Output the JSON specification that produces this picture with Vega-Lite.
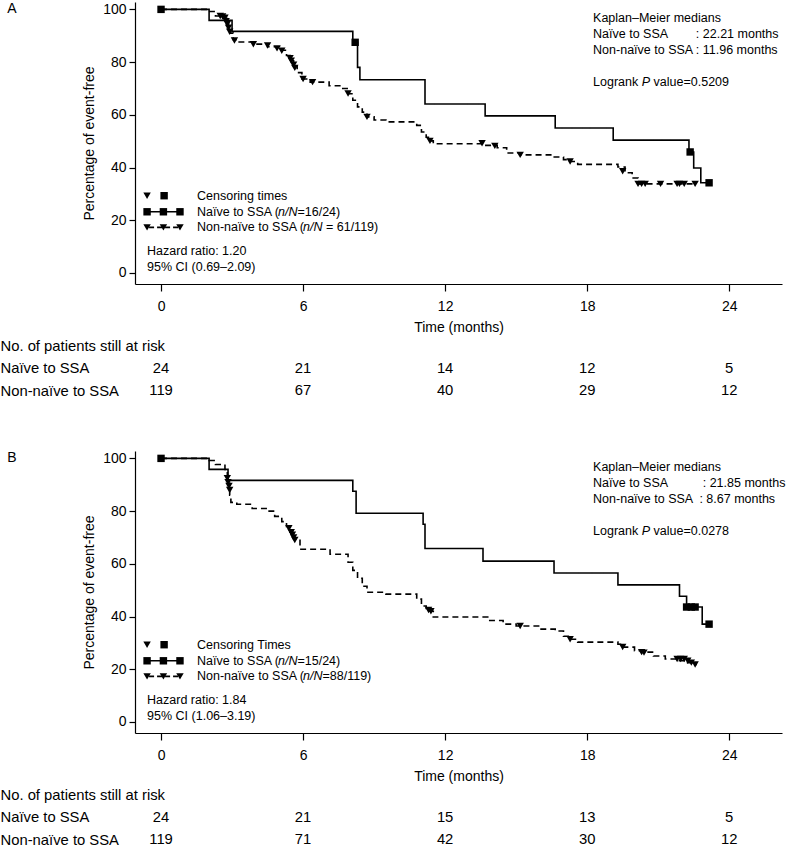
{
  "$schema": "https://vega.github.io/schema/vega-lite/v6.json",
  "padding": {"left": 0, "top": 2, "right": 5, "bottom": 5},
  "config": {
    "font": "Liberation Sans",
    "view": {"stroke": null},
    "axis": {"grid": false, "domainColor": "black", "tickColor": "black", "labelColor": "black", "titleColor": "black", "titleFontWeight": "normal", "domainWidth": 1.2, "tickWidth": 1.2},
    "text": {"color": "black", "fontSize": 12.5, "align": "left", "baseline": "middle"},
    "point": {"filled": true, "color": "black", "opacity": 1, "size": 55}
  },
  "datasets": {
    "curves": [
      {"panel": "A", "group": "Naive", "t": 0, "s": 100},
      {"panel": "A", "group": "Naive", "t": 2.03, "s": 95.83},
      {"panel": "A", "group": "Naive", "t": 3.0, "s": 91.67},
      {"panel": "A", "group": "Naive", "t": 8.1, "s": 87.5},
      {"panel": "A", "group": "Naive", "t": 8.3, "s": 78.0},
      {"panel": "A", "group": "Naive", "t": 8.4, "s": 73.3},
      {"panel": "A", "group": "Naive", "t": 11.15, "s": 64.1},
      {"panel": "A", "group": "Naive", "t": 13.69, "s": 59.6},
      {"panel": "A", "group": "Naive", "t": 16.65, "s": 55.0},
      {"panel": "A", "group": "Naive", "t": 19.1, "s": 50.4},
      {"panel": "A", "group": "Naive", "t": 22.3, "s": 45.9},
      {"panel": "A", "group": "Naive", "t": 22.5, "s": 39.8},
      {"panel": "A", "group": "Naive", "t": 22.8, "s": 34.2},
      {"panel": "A", "group": "Naive", "t": 23.15, "s": 34.2},
      {"panel": "A", "group": "Nonnaive", "t": 0, "s": 100},
      {"panel": "A", "group": "Nonnaive", "t": 2.0, "s": 99.2},
      {"panel": "A", "group": "Nonnaive", "t": 2.3, "s": 97.5},
      {"panel": "A", "group": "Nonnaive", "t": 2.7, "s": 96.5},
      {"panel": "A", "group": "Nonnaive", "t": 2.8, "s": 94.5},
      {"panel": "A", "group": "Nonnaive", "t": 2.85, "s": 92.5},
      {"panel": "A", "group": "Nonnaive", "t": 2.9, "s": 91.0},
      {"panel": "A", "group": "Nonnaive", "t": 3.05, "s": 88.5},
      {"panel": "A", "group": "Nonnaive", "t": 3.2, "s": 87.6},
      {"panel": "A", "group": "Nonnaive", "t": 3.9, "s": 86.8},
      {"panel": "A", "group": "Nonnaive", "t": 4.5, "s": 85.8},
      {"panel": "A", "group": "Nonnaive", "t": 5.0, "s": 84.5},
      {"panel": "A", "group": "Nonnaive", "t": 5.3, "s": 82.5},
      {"panel": "A", "group": "Nonnaive", "t": 5.5, "s": 80.5},
      {"panel": "A", "group": "Nonnaive", "t": 5.6, "s": 78.5},
      {"panel": "A", "group": "Nonnaive", "t": 5.75, "s": 76.0},
      {"panel": "A", "group": "Nonnaive", "t": 5.95, "s": 73.6},
      {"panel": "A", "group": "Nonnaive", "t": 6.3, "s": 72.4},
      {"panel": "A", "group": "Nonnaive", "t": 7.1, "s": 71.0},
      {"panel": "A", "group": "Nonnaive", "t": 7.6, "s": 70.0},
      {"panel": "A", "group": "Nonnaive", "t": 7.9, "s": 68.0},
      {"panel": "A", "group": "Nonnaive", "t": 8.1, "s": 65.5},
      {"panel": "A", "group": "Nonnaive", "t": 8.3, "s": 63.0},
      {"panel": "A", "group": "Nonnaive", "t": 8.5, "s": 61.0},
      {"panel": "A", "group": "Nonnaive", "t": 8.7, "s": 59.2},
      {"panel": "A", "group": "Nonnaive", "t": 9.0, "s": 58.0},
      {"panel": "A", "group": "Nonnaive", "t": 9.5, "s": 57.3},
      {"panel": "A", "group": "Nonnaive", "t": 10.8, "s": 56.0},
      {"panel": "A", "group": "Nonnaive", "t": 11.0, "s": 53.5},
      {"panel": "A", "group": "Nonnaive", "t": 11.2, "s": 51.5},
      {"panel": "A", "group": "Nonnaive", "t": 11.36, "s": 50.1},
      {"panel": "A", "group": "Nonnaive", "t": 11.5, "s": 49.0},
      {"panel": "A", "group": "Nonnaive", "t": 13.6, "s": 48.4},
      {"panel": "A", "group": "Nonnaive", "t": 14.2, "s": 47.5},
      {"panel": "A", "group": "Nonnaive", "t": 14.6, "s": 45.5},
      {"panel": "A", "group": "Nonnaive", "t": 15.17, "s": 44.8},
      {"panel": "A", "group": "Nonnaive", "t": 16.56, "s": 44.0},
      {"panel": "A", "group": "Nonnaive", "t": 17.0, "s": 43.0},
      {"panel": "A", "group": "Nonnaive", "t": 17.28, "s": 42.3},
      {"panel": "A", "group": "Nonnaive", "t": 17.6, "s": 41.2},
      {"panel": "A", "group": "Nonnaive", "t": 19.3, "s": 40.2},
      {"panel": "A", "group": "Nonnaive", "t": 19.6, "s": 38.0},
      {"panel": "A", "group": "Nonnaive", "t": 19.9, "s": 36.0},
      {"panel": "A", "group": "Nonnaive", "t": 20.15, "s": 33.8},
      {"panel": "A", "group": "Nonnaive", "t": 22.6, "s": 33.8},
      {"panel": "B", "group": "Naive", "t": 0, "s": 100},
      {"panel": "B", "group": "Naive", "t": 2.03, "s": 95.83},
      {"panel": "B", "group": "Naive", "t": 2.83, "s": 91.67},
      {"panel": "B", "group": "Naive", "t": 8.1, "s": 87.5},
      {"panel": "B", "group": "Naive", "t": 8.24, "s": 79.17},
      {"panel": "B", "group": "Naive", "t": 11.07, "s": 75.0},
      {"panel": "B", "group": "Naive", "t": 11.15, "s": 65.8},
      {"panel": "B", "group": "Naive", "t": 13.6, "s": 61.0},
      {"panel": "B", "group": "Naive", "t": 16.6, "s": 56.5},
      {"panel": "B", "group": "Naive", "t": 19.3, "s": 52.0},
      {"panel": "B", "group": "Naive", "t": 21.9, "s": 47.7},
      {"panel": "B", "group": "Naive", "t": 22.2, "s": 43.6},
      {"panel": "B", "group": "Naive", "t": 22.86, "s": 37.1},
      {"panel": "B", "group": "Naive", "t": 23.15, "s": 37.1},
      {"panel": "B", "group": "Nonnaive", "t": 0, "s": 100},
      {"panel": "B", "group": "Nonnaive", "t": 2.03, "s": 99.2},
      {"panel": "B", "group": "Nonnaive", "t": 2.3, "s": 97.7},
      {"panel": "B", "group": "Nonnaive", "t": 2.7, "s": 95.8},
      {"panel": "B", "group": "Nonnaive", "t": 2.8, "s": 93.5},
      {"panel": "B", "group": "Nonnaive", "t": 2.85, "s": 90.5},
      {"panel": "B", "group": "Nonnaive", "t": 2.9, "s": 86.0},
      {"panel": "B", "group": "Nonnaive", "t": 2.95, "s": 83.3},
      {"panel": "B", "group": "Nonnaive", "t": 3.2, "s": 82.6},
      {"panel": "B", "group": "Nonnaive", "t": 3.85, "s": 81.0},
      {"panel": "B", "group": "Nonnaive", "t": 4.5, "s": 80.0},
      {"panel": "B", "group": "Nonnaive", "t": 4.8, "s": 78.0},
      {"panel": "B", "group": "Nonnaive", "t": 5.1, "s": 76.0},
      {"panel": "B", "group": "Nonnaive", "t": 5.3, "s": 74.2},
      {"panel": "B", "group": "Nonnaive", "t": 5.45, "s": 72.0},
      {"panel": "B", "group": "Nonnaive", "t": 5.6, "s": 69.5},
      {"panel": "B", "group": "Nonnaive", "t": 5.87, "s": 65.5},
      {"panel": "B", "group": "Nonnaive", "t": 7.14, "s": 63.6},
      {"panel": "B", "group": "Nonnaive", "t": 7.9, "s": 60.6},
      {"panel": "B", "group": "Nonnaive", "t": 8.1, "s": 57.5},
      {"panel": "B", "group": "Nonnaive", "t": 8.3, "s": 54.5},
      {"panel": "B", "group": "Nonnaive", "t": 8.5, "s": 51.5},
      {"panel": "B", "group": "Nonnaive", "t": 8.7, "s": 49.2},
      {"panel": "B", "group": "Nonnaive", "t": 9.5, "s": 48.5},
      {"panel": "B", "group": "Nonnaive", "t": 10.8, "s": 46.6},
      {"panel": "B", "group": "Nonnaive", "t": 11.0, "s": 44.0},
      {"panel": "B", "group": "Nonnaive", "t": 11.2, "s": 42.5},
      {"panel": "B", "group": "Nonnaive", "t": 11.36, "s": 42.0},
      {"panel": "B", "group": "Nonnaive", "t": 11.5, "s": 39.8},
      {"panel": "B", "group": "Nonnaive", "t": 13.8, "s": 38.5},
      {"panel": "B", "group": "Nonnaive", "t": 14.45, "s": 37.1},
      {"panel": "B", "group": "Nonnaive", "t": 15.0, "s": 36.4},
      {"panel": "B", "group": "Nonnaive", "t": 16.0, "s": 35.2},
      {"panel": "B", "group": "Nonnaive", "t": 16.65, "s": 34.5},
      {"panel": "B", "group": "Nonnaive", "t": 17.0, "s": 32.5},
      {"panel": "B", "group": "Nonnaive", "t": 17.28, "s": 31.4},
      {"panel": "B", "group": "Nonnaive", "t": 17.6, "s": 30.3},
      {"panel": "B", "group": "Nonnaive", "t": 19.3, "s": 29.5},
      {"panel": "B", "group": "Nonnaive", "t": 19.5, "s": 28.4},
      {"panel": "B", "group": "Nonnaive", "t": 20.0, "s": 27.0},
      {"panel": "B", "group": "Nonnaive", "t": 20.3, "s": 26.5},
      {"panel": "B", "group": "Nonnaive", "t": 20.8, "s": 25.0},
      {"panel": "B", "group": "Nonnaive", "t": 21.3, "s": 23.9},
      {"panel": "B", "group": "Nonnaive", "t": 21.8, "s": 23.2},
      {"panel": "B", "group": "Nonnaive", "t": 22.2, "s": 22.5},
      {"panel": "B", "group": "Nonnaive", "t": 22.6, "s": 21.5}
    ],
    "censor": [
      {"panel": "A", "group": "Naive", "t": 0, "s": 100},
      {"panel": "A", "group": "Naive", "t": 8.2, "s": 87.5},
      {"panel": "A", "group": "Naive", "t": 22.35, "s": 45.9},
      {"panel": "A", "group": "Naive", "t": 23.15, "s": 34.2},
      {"panel": "A", "group": "Nonnaive", "t": 2.5, "s": 97.5},
      {"panel": "A", "group": "Nonnaive", "t": 2.6, "s": 97.3},
      {"panel": "A", "group": "Nonnaive", "t": 2.7, "s": 96.8},
      {"panel": "A", "group": "Nonnaive", "t": 2.75, "s": 95.5},
      {"panel": "A", "group": "Nonnaive", "t": 2.8, "s": 94.5},
      {"panel": "A", "group": "Nonnaive", "t": 2.85, "s": 93.0},
      {"panel": "A", "group": "Nonnaive", "t": 2.9, "s": 91.5},
      {"panel": "A", "group": "Nonnaive", "t": 3.1, "s": 88.2},
      {"panel": "A", "group": "Nonnaive", "t": 3.9, "s": 86.8},
      {"panel": "A", "group": "Nonnaive", "t": 4.5, "s": 86.3},
      {"panel": "A", "group": "Nonnaive", "t": 4.9, "s": 85.2},
      {"panel": "A", "group": "Nonnaive", "t": 5.1, "s": 84.3},
      {"panel": "A", "group": "Nonnaive", "t": 5.45, "s": 81.5},
      {"panel": "A", "group": "Nonnaive", "t": 5.5, "s": 80.5},
      {"panel": "A", "group": "Nonnaive", "t": 5.6, "s": 79.0},
      {"panel": "A", "group": "Nonnaive", "t": 5.65, "s": 77.8},
      {"panel": "A", "group": "Nonnaive", "t": 6.0, "s": 73.6},
      {"panel": "A", "group": "Nonnaive", "t": 6.4, "s": 72.4},
      {"panel": "A", "group": "Nonnaive", "t": 7.9, "s": 68.1},
      {"panel": "A", "group": "Nonnaive", "t": 8.7, "s": 59.2},
      {"panel": "A", "group": "Nonnaive", "t": 11.36, "s": 50.1},
      {"panel": "A", "group": "Nonnaive", "t": 13.56, "s": 49.2},
      {"panel": "A", "group": "Nonnaive", "t": 14.1, "s": 48.2},
      {"panel": "A", "group": "Nonnaive", "t": 15.17, "s": 44.8},
      {"panel": "A", "group": "Nonnaive", "t": 17.28, "s": 42.3},
      {"panel": "A", "group": "Nonnaive", "t": 19.5, "s": 38.6},
      {"panel": "A", "group": "Nonnaive", "t": 20.15, "s": 33.8},
      {"panel": "A", "group": "Nonnaive", "t": 20.3, "s": 33.8},
      {"panel": "A", "group": "Nonnaive", "t": 20.45, "s": 33.8},
      {"panel": "A", "group": "Nonnaive", "t": 21.1, "s": 33.8},
      {"panel": "A", "group": "Nonnaive", "t": 21.8, "s": 33.8},
      {"panel": "A", "group": "Nonnaive", "t": 21.9, "s": 33.8},
      {"panel": "A", "group": "Nonnaive", "t": 22.1, "s": 33.8},
      {"panel": "A", "group": "Nonnaive", "t": 22.56, "s": 33.8},
      {"panel": "B", "group": "Naive", "t": 0, "s": 100},
      {"panel": "B", "group": "Naive", "t": 22.2, "s": 43.6},
      {"panel": "B", "group": "Naive", "t": 22.4, "s": 43.6},
      {"panel": "B", "group": "Naive", "t": 22.56, "s": 43.6},
      {"panel": "B", "group": "Naive", "t": 23.15, "s": 37.1},
      {"panel": "B", "group": "Nonnaive", "t": 2.8, "s": 92.5},
      {"panel": "B", "group": "Nonnaive", "t": 2.83, "s": 91.0},
      {"panel": "B", "group": "Nonnaive", "t": 2.87, "s": 89.5},
      {"panel": "B", "group": "Nonnaive", "t": 2.9, "s": 88.0},
      {"panel": "B", "group": "Nonnaive", "t": 5.4, "s": 73.5},
      {"panel": "B", "group": "Nonnaive", "t": 5.5, "s": 72.0},
      {"panel": "B", "group": "Nonnaive", "t": 5.55, "s": 71.0},
      {"panel": "B", "group": "Nonnaive", "t": 5.6, "s": 70.0},
      {"panel": "B", "group": "Nonnaive", "t": 5.65, "s": 69.0},
      {"panel": "B", "group": "Nonnaive", "t": 11.3, "s": 42.5},
      {"panel": "B", "group": "Nonnaive", "t": 11.4, "s": 42.0},
      {"panel": "B", "group": "Nonnaive", "t": 15.17, "s": 36.4},
      {"panel": "B", "group": "Nonnaive", "t": 17.28, "s": 31.4},
      {"panel": "B", "group": "Nonnaive", "t": 19.5, "s": 28.4},
      {"panel": "B", "group": "Nonnaive", "t": 20.3, "s": 26.5},
      {"panel": "B", "group": "Nonnaive", "t": 20.4, "s": 26.3},
      {"panel": "B", "group": "Nonnaive", "t": 21.8, "s": 23.9},
      {"panel": "B", "group": "Nonnaive", "t": 21.95, "s": 23.9},
      {"panel": "B", "group": "Nonnaive", "t": 22.1, "s": 23.9},
      {"panel": "B", "group": "Nonnaive", "t": 22.25, "s": 23.2},
      {"panel": "B", "group": "Nonnaive", "t": 22.4, "s": 22.5},
      {"panel": "B", "group": "Nonnaive", "t": 22.56, "s": 21.8}
    ],
    "risk": [
      {"panel": "A", "row": "Naïve to SSA", "t": 0, "n": 24},
      {"panel": "A", "row": "Naïve to SSA", "t": 6, "n": 21},
      {"panel": "A", "row": "Naïve to SSA", "t": 12, "n": 14},
      {"panel": "A", "row": "Naïve to SSA", "t": 18, "n": 12},
      {"panel": "A", "row": "Naïve to SSA", "t": 24, "n": 5},
      {"panel": "A", "row": "Non-naïve to SSA", "t": 0, "n": 119},
      {"panel": "A", "row": "Non-naïve to SSA", "t": 6, "n": 67},
      {"panel": "A", "row": "Non-naïve to SSA", "t": 12, "n": 40},
      {"panel": "A", "row": "Non-naïve to SSA", "t": 18, "n": 29},
      {"panel": "A", "row": "Non-naïve to SSA", "t": 24, "n": 12},
      {"panel": "B", "row": "Naïve to SSA", "t": 0, "n": 24},
      {"panel": "B", "row": "Naïve to SSA", "t": 6, "n": 21},
      {"panel": "B", "row": "Naïve to SSA", "t": 12, "n": 15},
      {"panel": "B", "row": "Naïve to SSA", "t": 18, "n": 13},
      {"panel": "B", "row": "Naïve to SSA", "t": 24, "n": 5},
      {"panel": "B", "row": "Non-naïve to SSA", "t": 0, "n": 119},
      {"panel": "B", "row": "Non-naïve to SSA", "t": 6, "n": 71},
      {"panel": "B", "row": "Non-naïve to SSA", "t": 12, "n": 42},
      {"panel": "B", "row": "Non-naïve to SSA", "t": 18, "n": 30},
      {"panel": "B", "row": "Non-naïve to SSA", "t": 24, "n": 12}
    ]
  },
  "spacing": 53,
  "vconcat": [
    {
      "spacing": 4,
      "vconcat": [
        {
          "width": 647,
          "height": 282,
          "layer": [
            {
              "data": {"name": "curves"},
              "transform": [{"filter": "datum.panel === 'A'"}],
              "mark": {"type": "line", "interpolate": "step-after", "color": "black", "strokeWidth": 1.6},
              "encoding": {
                "x": {"field": "t", "type": "quantitative", "scale": {"domain": [-1.1, 26.23], "nice": false, "zero": false},
                  "axis": {"values": [0, 6, 12, 18, 24], "title": "Time (months)", "tickSize": 7, "labelPadding": 8, "labelFontSize": 14, "titleFontSize": 14, "titlePadding": 7}},
                "y": {"field": "s", "type": "quantitative", "scale": {"domain": [-4.2, 102.8], "nice": false, "zero": false},
                  "axis": {"values": [0, 20, 40, 60, 80, 100], "title": "Percentage of event-free", "tickSize": 6, "labelPadding": 3, "labelFontSize": 14, "titleFontSize": 14, "titlePadding": 6}},
                "strokeDash": {"field": "group", "type": "nominal", "scale": {"domain": ["Naive", "Nonnaive"], "range": [[1, 0], [6, 4]]}, "legend": null}
              }
            },
            {
              "data": {"name": "censor"},
              "transform": [{"filter": "datum.panel === 'A'"}],
              "mark": {"type": "point"},
              "encoding": {
                "x": {"field": "t", "type": "quantitative"},
                "y": {"field": "s", "type": "quantitative"},
                "shape": {"field": "group", "type": "nominal", "scale": {"domain": ["Naive", "Nonnaive"], "range": ["square", "triangle-down"]}, "legend": null}
              }
            },
            {"data": {"values": [{}]}, "mark": {"type": "text", "fontSize": 14}, "encoding": {"x": {"datum": -6.5, "type": "quantitative"}, "y": {"datum": 100, "type": "quantitative"}, "text": {"value": "A"}}},
            {"data": {"values": [{}]}, "mark": {"type": "text"}, "encoding": {"x": {"datum": 18.25, "type": "quantitative"}, "y": {"datum": 96.6, "type": "quantitative"}, "text": {"value": "Kaplan–Meier medians"}}},
            {"data": {"values": [{}]}, "mark": {"type": "text"}, "encoding": {"x": {"datum": 18.25, "type": "quantitative"}, "y": {"datum": 90.7, "type": "quantitative"}, "text": {"value": "Naïve to SSA"}}},
            {"data": {"values": [{}]}, "mark": {"type": "text"}, "encoding": {"x": {"datum": 18.25, "type": "quantitative"}, "y": {"datum": 84.6, "type": "quantitative"}, "text": {"value": "Non-naïve to SSA"}}},
            {"data": {"values": [{}]}, "mark": {"type": "text"}, "encoding": {"x": {"datum": 22.59, "type": "quantitative"}, "y": {"datum": 90.7, "type": "quantitative"}, "text": {"value": ": 22.21 months"}}},
            {"data": {"values": [{}]}, "mark": {"type": "text"}, "encoding": {"x": {"datum": 22.59, "type": "quantitative"}, "y": {"datum": 84.6, "type": "quantitative"}, "text": {"value": ": 11.96 months"}}},
            {"data": {"values": [{}]}, "mark": {"type": "text"}, "encoding": {"x": {"datum": 18.25, "type": "quantitative"}, "y": {"datum": 72.3, "type": "quantitative"}, "text": {"value": "Logrank"}}},
            {"data": {"values": [{}]}, "mark": {"type": "text", "fontStyle": "italic"}, "encoding": {"x": {"datum": 20.306, "type": "quantitative"}, "y": {"datum": 72.3, "type": "quantitative"}, "text": {"value": "P"}}},
            {"data": {"values": [{}]}, "mark": {"type": "text"}, "encoding": {"x": {"datum": 20.805, "type": "quantitative"}, "y": {"datum": 72.3, "type": "quantitative"}, "text": {"value": "value=0.5209"}}},
            {"data": {"values": [{}]}, "mark": {"type": "point", "shape": "triangle-down"}, "encoding": {"x": {"datum": -0.59, "type": "quantitative"}, "y": {"datum": 29.3, "type": "quantitative"}}},
            {"data": {"values": [{}]}, "mark": {"type": "point", "shape": "square"}, "encoding": {"x": {"datum": 0.13, "type": "quantitative"}, "y": {"datum": 29.3, "type": "quantitative"}}},
            {"data": {"values": [{}]}, "mark": {"type": "rule", "color": "black", "strokeWidth": 1.6}, "encoding": {"x": {"datum": -0.59, "type": "quantitative"}, "x2": {"datum": 0.8}, "y": {"datum": 23.2, "type": "quantitative"}}},
            {"data": {"values": [{}]}, "mark": {"type": "point", "shape": "square"}, "encoding": {"x": {"datum": -0.59, "type": "quantitative"}, "y": {"datum": 23.2, "type": "quantitative"}}},
            {"data": {"values": [{}]}, "mark": {"type": "point", "shape": "square"}, "encoding": {"x": {"datum": 0.1, "type": "quantitative"}, "y": {"datum": 23.2, "type": "quantitative"}}},
            {"data": {"values": [{}]}, "mark": {"type": "point", "shape": "square"}, "encoding": {"x": {"datum": 0.8, "type": "quantitative"}, "y": {"datum": 23.2, "type": "quantitative"}}},
            {"data": {"values": [{}]}, "mark": {"type": "rule", "color": "black", "strokeWidth": 1.6, "strokeDash": [5, 3], "strokeDashOffset": -2}, "encoding": {"x": {"datum": -0.59, "type": "quantitative"}, "x2": {"datum": 0.8}, "y": {"datum": 17.3, "type": "quantitative"}}},
            {"data": {"values": [{}]}, "mark": {"type": "point", "shape": "triangle-down"}, "encoding": {"x": {"datum": -0.59, "type": "quantitative"}, "y": {"datum": 17.3, "type": "quantitative"}}},
            {"data": {"values": [{}]}, "mark": {"type": "point", "shape": "triangle-down"}, "encoding": {"x": {"datum": 0.1, "type": "quantitative"}, "y": {"datum": 17.3, "type": "quantitative"}}},
            {"data": {"values": [{}]}, "mark": {"type": "point", "shape": "triangle-down"}, "encoding": {"x": {"datum": 0.8, "type": "quantitative"}, "y": {"datum": 17.3, "type": "quantitative"}}},
            {"data": {"values": [{}]}, "mark": {"type": "text"}, "encoding": {"x": {"datum": 1.52, "type": "quantitative"}, "y": {"datum": 29.3, "type": "quantitative"}, "text": {"value": "Censoring times"}}},
            {"data": {"values": [{}]}, "mark": {"type": "text"}, "encoding": {"x": {"datum": 1.52, "type": "quantitative"}, "y": {"datum": 23.2, "type": "quantitative"}, "text": {"value": "Naïve to SSA ("}}},
            {"data": {"values": [{}]}, "mark": {"type": "text", "fontStyle": "italic"}, "encoding": {"x": {"datum": 4.941, "type": "quantitative"}, "y": {"datum": 23.2, "type": "quantitative"}, "text": {"value": "n/N"}}},
            {"data": {"values": [{}]}, "mark": {"type": "text"}, "encoding": {"x": {"datum": 5.763, "type": "quantitative"}, "y": {"datum": 23.2, "type": "quantitative"}, "text": {"value": "=16/24)"}}},
            {"data": {"values": [{}]}, "mark": {"type": "text"}, "encoding": {"x": {"datum": 1.52, "type": "quantitative"}, "y": {"datum": 17.3, "type": "quantitative"}, "text": {"value": "Non-naïve to SSA ("}}},
            {"data": {"values": [{}]}, "mark": {"type": "text", "fontStyle": "italic"}, "encoding": {"x": {"datum": 5.998, "type": "quantitative"}, "y": {"datum": 17.3, "type": "quantitative"}, "text": {"value": "n/N"}}},
            {"data": {"values": [{}]}, "mark": {"type": "text"}, "encoding": {"x": {"datum": 6.967, "type": "quantitative"}, "y": {"datum": 17.3, "type": "quantitative"}, "text": {"value": "= 61/119)"}}},
            {"data": {"values": [{}]}, "mark": {"type": "text"}, "encoding": {"x": {"datum": -0.59, "type": "quantitative"}, "y": {"datum": 8.3, "type": "quantitative"}, "text": {"value": "Hazard ratio: 1.20"}}},
            {"data": {"values": [{}]}, "mark": {"type": "text"}, "encoding": {"x": {"datum": -0.59, "type": "quantitative"}, "y": {"datum": 2.2, "type": "quantitative"}, "text": {"value": "95% CI (0.69–2.09)"}}}
          ]
        },
        {
          "width": 647,
          "height": 45,
          "data": {"name": "risk"},
          "transform": [{"filter": "datum.panel === 'A'"}],
          "mark": {"type": "text", "fontSize": 14.8, "align": "center", "baseline": "middle"},
          "encoding": {
            "x": {"field": "t", "type": "quantitative", "scale": {"domain": [-1.1, 26.23], "nice": false, "zero": false}, "axis": null},
            "y": {"field": "row", "type": "ordinal", "scale": {"type": "point", "padding": 0, "domain": ["No. of patients still at risk", "Naïve to SSA", "Non-naïve to SSA"]},
              "axis": {"title": null, "domain": false, "ticks": false, "labelAlign": "left", "labelBaseline": "middle", "labelPadding": 135, "labelFontSize": 14.8, "labelColor": "black"}},
            "text": {"field": "n", "type": "quantitative"}
          }
        }
      ]
    },
    {
      "spacing": 4,
      "vconcat": [
        {
          "width": 647,
          "height": 282,
          "layer": [
            {
              "data": {"name": "curves"},
              "transform": [{"filter": "datum.panel === 'B'"}],
              "mark": {"type": "line", "interpolate": "step-after", "color": "black", "strokeWidth": 1.6},
              "encoding": {
                "x": {"field": "t", "type": "quantitative", "scale": {"domain": [-1.1, 26.23], "nice": false, "zero": false},
                  "axis": {"values": [0, 6, 12, 18, 24], "title": "Time (months)", "tickSize": 7, "labelPadding": 8, "labelFontSize": 14, "titleFontSize": 14, "titlePadding": 7}},
                "y": {"field": "s", "type": "quantitative", "scale": {"domain": [-4.2, 102.8], "nice": false, "zero": false},
                  "axis": {"values": [0, 20, 40, 60, 80, 100], "title": "Percentage of event-free", "tickSize": 6, "labelPadding": 3, "labelFontSize": 14, "titleFontSize": 14, "titlePadding": 6}},
                "strokeDash": {"field": "group", "type": "nominal", "scale": {"domain": ["Naive", "Nonnaive"], "range": [[1, 0], [6, 4]]}, "legend": null}
              }
            },
            {
              "data": {"name": "censor"},
              "transform": [{"filter": "datum.panel === 'B'"}],
              "mark": {"type": "point"},
              "encoding": {
                "x": {"field": "t", "type": "quantitative"},
                "y": {"field": "s", "type": "quantitative"},
                "shape": {"field": "group", "type": "nominal", "scale": {"domain": ["Naive", "Nonnaive"], "range": ["square", "triangle-down"]}, "legend": null}
              }
            },
            {"data": {"values": [{}]}, "mark": {"type": "text", "fontSize": 14}, "encoding": {"x": {"datum": -6.5, "type": "quantitative"}, "y": {"datum": 100, "type": "quantitative"}, "text": {"value": "B"}}},
            {"data": {"values": [{}]}, "mark": {"type": "text"}, "encoding": {"x": {"datum": 18.25, "type": "quantitative"}, "y": {"datum": 96.6, "type": "quantitative"}, "text": {"value": "Kaplan–Meier medians"}}},
            {"data": {"values": [{}]}, "mark": {"type": "text"}, "encoding": {"x": {"datum": 18.25, "type": "quantitative"}, "y": {"datum": 90.7, "type": "quantitative"}, "text": {"value": "Naïve to SSA"}}},
            {"data": {"values": [{}]}, "mark": {"type": "text"}, "encoding": {"x": {"datum": 18.25, "type": "quantitative"}, "y": {"datum": 84.6, "type": "quantitative"}, "text": {"value": "Non-naïve to SSA"}}},
            {"data": {"values": [{}]}, "mark": {"type": "text"}, "encoding": {"x": {"datum": 22.88, "type": "quantitative"}, "y": {"datum": 90.7, "type": "quantitative"}, "text": {"value": ": 21.85 months"}}},
            {"data": {"values": [{}]}, "mark": {"type": "text"}, "encoding": {"x": {"datum": 22.74, "type": "quantitative"}, "y": {"datum": 84.6, "type": "quantitative"}, "text": {"value": ": 8.67 months"}}},
            {"data": {"values": [{}]}, "mark": {"type": "text"}, "encoding": {"x": {"datum": 18.25, "type": "quantitative"}, "y": {"datum": 72.3, "type": "quantitative"}, "text": {"value": "Logrank"}}},
            {"data": {"values": [{}]}, "mark": {"type": "text", "fontStyle": "italic"}, "encoding": {"x": {"datum": 20.306, "type": "quantitative"}, "y": {"datum": 72.3, "type": "quantitative"}, "text": {"value": "P"}}},
            {"data": {"values": [{}]}, "mark": {"type": "text"}, "encoding": {"x": {"datum": 20.805, "type": "quantitative"}, "y": {"datum": 72.3, "type": "quantitative"}, "text": {"value": "value=0.0278"}}},
            {"data": {"values": [{}]}, "mark": {"type": "point", "shape": "triangle-down"}, "encoding": {"x": {"datum": -0.59, "type": "quantitative"}, "y": {"datum": 29.3, "type": "quantitative"}}},
            {"data": {"values": [{}]}, "mark": {"type": "point", "shape": "square"}, "encoding": {"x": {"datum": 0.13, "type": "quantitative"}, "y": {"datum": 29.3, "type": "quantitative"}}},
            {"data": {"values": [{}]}, "mark": {"type": "rule", "color": "black", "strokeWidth": 1.6}, "encoding": {"x": {"datum": -0.59, "type": "quantitative"}, "x2": {"datum": 0.8}, "y": {"datum": 23.2, "type": "quantitative"}}},
            {"data": {"values": [{}]}, "mark": {"type": "point", "shape": "square"}, "encoding": {"x": {"datum": -0.59, "type": "quantitative"}, "y": {"datum": 23.2, "type": "quantitative"}}},
            {"data": {"values": [{}]}, "mark": {"type": "point", "shape": "square"}, "encoding": {"x": {"datum": 0.1, "type": "quantitative"}, "y": {"datum": 23.2, "type": "quantitative"}}},
            {"data": {"values": [{}]}, "mark": {"type": "point", "shape": "square"}, "encoding": {"x": {"datum": 0.8, "type": "quantitative"}, "y": {"datum": 23.2, "type": "quantitative"}}},
            {"data": {"values": [{}]}, "mark": {"type": "rule", "color": "black", "strokeWidth": 1.6, "strokeDash": [5, 3], "strokeDashOffset": -2}, "encoding": {"x": {"datum": -0.59, "type": "quantitative"}, "x2": {"datum": 0.8}, "y": {"datum": 17.3, "type": "quantitative"}}},
            {"data": {"values": [{}]}, "mark": {"type": "point", "shape": "triangle-down"}, "encoding": {"x": {"datum": -0.59, "type": "quantitative"}, "y": {"datum": 17.3, "type": "quantitative"}}},
            {"data": {"values": [{}]}, "mark": {"type": "point", "shape": "triangle-down"}, "encoding": {"x": {"datum": 0.1, "type": "quantitative"}, "y": {"datum": 17.3, "type": "quantitative"}}},
            {"data": {"values": [{}]}, "mark": {"type": "point", "shape": "triangle-down"}, "encoding": {"x": {"datum": 0.8, "type": "quantitative"}, "y": {"datum": 17.3, "type": "quantitative"}}},
            {"data": {"values": [{}]}, "mark": {"type": "text"}, "encoding": {"x": {"datum": 1.52, "type": "quantitative"}, "y": {"datum": 29.3, "type": "quantitative"}, "text": {"value": "Censoring Times"}}},
            {"data": {"values": [{}]}, "mark": {"type": "text"}, "encoding": {"x": {"datum": 1.52, "type": "quantitative"}, "y": {"datum": 23.2, "type": "quantitative"}, "text": {"value": "Naïve to SSA ("}}},
            {"data": {"values": [{}]}, "mark": {"type": "text", "fontStyle": "italic"}, "encoding": {"x": {"datum": 4.941, "type": "quantitative"}, "y": {"datum": 23.2, "type": "quantitative"}, "text": {"value": "n/N"}}},
            {"data": {"values": [{}]}, "mark": {"type": "text"}, "encoding": {"x": {"datum": 5.763, "type": "quantitative"}, "y": {"datum": 23.2, "type": "quantitative"}, "text": {"value": "=15/24)"}}},
            {"data": {"values": [{}]}, "mark": {"type": "text"}, "encoding": {"x": {"datum": 1.52, "type": "quantitative"}, "y": {"datum": 17.3, "type": "quantitative"}, "text": {"value": "Non-naïve to SSA ("}}},
            {"data": {"values": [{}]}, "mark": {"type": "text", "fontStyle": "italic"}, "encoding": {"x": {"datum": 5.998, "type": "quantitative"}, "y": {"datum": 17.3, "type": "quantitative"}, "text": {"value": "n/N"}}},
            {"data": {"values": [{}]}, "mark": {"type": "text"}, "encoding": {"x": {"datum": 6.82, "type": "quantitative"}, "y": {"datum": 17.3, "type": "quantitative"}, "text": {"value": "=88/119)"}}},
            {"data": {"values": [{}]}, "mark": {"type": "text"}, "encoding": {"x": {"datum": -0.59, "type": "quantitative"}, "y": {"datum": 8.3, "type": "quantitative"}, "text": {"value": "Hazard ratio: 1.84"}}},
            {"data": {"values": [{}]}, "mark": {"type": "text"}, "encoding": {"x": {"datum": -0.59, "type": "quantitative"}, "y": {"datum": 2.2, "type": "quantitative"}, "text": {"value": "95% CI (1.06–3.19)"}}}
          ]
        },
        {
          "width": 647,
          "height": 45,
          "data": {"name": "risk"},
          "transform": [{"filter": "datum.panel === 'B'"}],
          "mark": {"type": "text", "fontSize": 14.8, "align": "center", "baseline": "middle"},
          "encoding": {
            "x": {"field": "t", "type": "quantitative", "scale": {"domain": [-1.1, 26.23], "nice": false, "zero": false}, "axis": null},
            "y": {"field": "row", "type": "ordinal", "scale": {"type": "point", "padding": 0, "domain": ["No. of patients still at risk", "Naïve to SSA", "Non-naïve to SSA"]},
              "axis": {"title": null, "domain": false, "ticks": false, "labelAlign": "left", "labelBaseline": "middle", "labelPadding": 135, "labelFontSize": 14.8, "labelColor": "black"}},
            "text": {"field": "n", "type": "quantitative"}
          }
        }
      ]
    }
  ]
}
